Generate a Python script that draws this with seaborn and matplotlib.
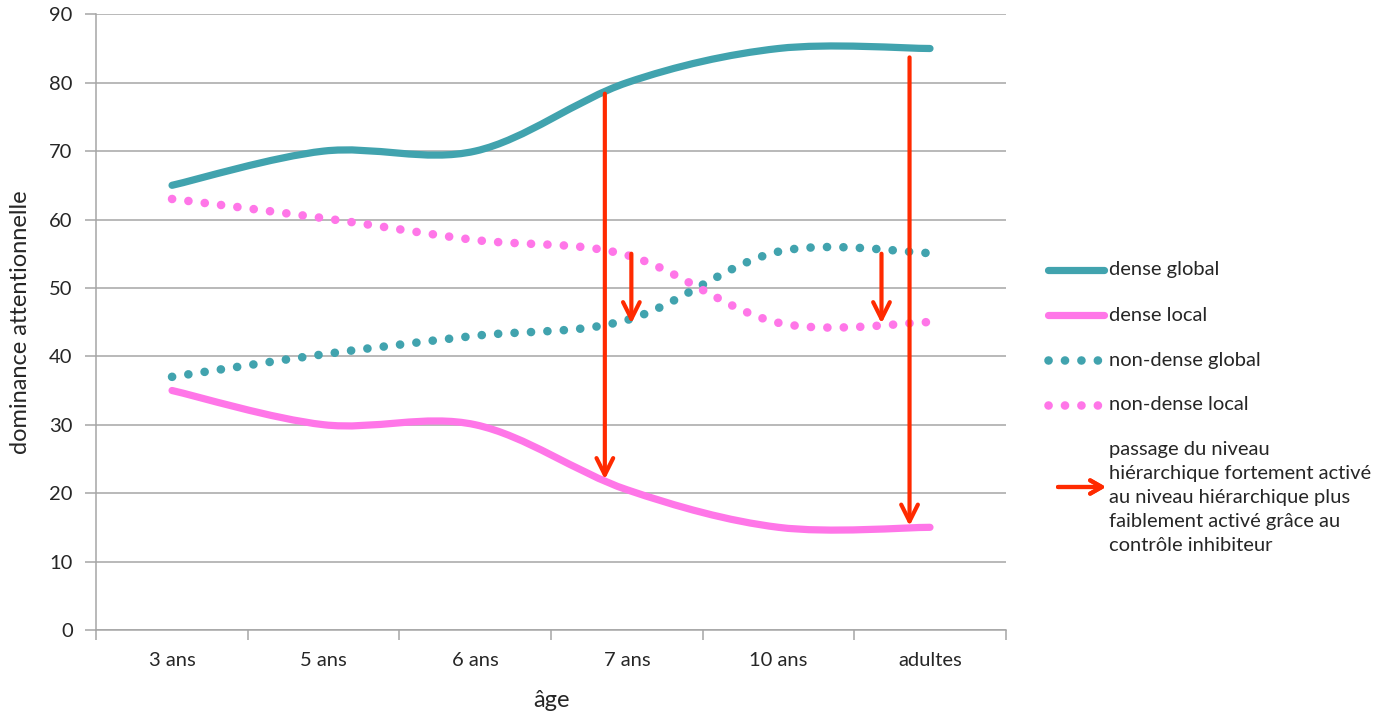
import numpy as np
import matplotlib
matplotlib.use("Agg")
import matplotlib.pyplot as plt
from matplotlib.path import Path
from matplotlib.patches import PathPatch
from matplotlib.lines import Line2D
import seaborn as sns

# données
ages = ["3 ans", "5 ans", "6 ans", "7 ans", "10 ans", "adultes"]
dense_global = [65, 70, 70, 80, 85, 85]
dense_local = [35, 30, 30, 20.5, 15, 15]
non_dense_global = [37, 40.3, 43, 45.3, 55.3, 55.1]
non_dense_local = [63, 60.2, 57, 54.8, 44.9, 45]

# flèches : (position sur l'axe des âges, départ, arrivée)
arrows = [(2.855, 78.4, 22.0), (3.03, 55.0, 44.8), (4.68, 55.0, 44.8), (4.865, 83.7, 15.2)]

teal = "#41A3AE"
pink = "#FF76E8"
red = "#FF2A00"
grey = "#A6A6A6"
dots = (0, (0.01, 1.9))

sns.set_theme(style="white")
plt.rcParams['font.family'] = ['Lato', 'DejaVu Sans']


def smooth_path(ys):
    # courbe lissée façon Excel (Bézier de type Catmull-Rom)
    pts = np.column_stack([np.arange(len(ys)), ys]).astype(float)
    verts = [pts[0]]
    codes = [Path.MOVETO]
    n = len(pts)
    for i in range(n - 1):
        p0 = pts[max(i - 1, 0)]
        p1 = pts[i]
        p2 = pts[i + 1]
        p3 = pts[min(i + 2, n - 1)]
        c1 = p1 + (p2 - p0) / 6
        c2 = p2 - (p3 - p1) / 6
        verts += [c1, c2, p2]
        codes += [Path.CURVE4] * 3
    return Path(verts, codes)


fig = plt.figure(figsize=(13.95, 7.15), dpi=100)
ax = fig.add_axes([0.069, 0.119, 0.652, 0.861])

series = [
    (dense_global, teal, '-', 5.2),
    (dense_local, pink, '-', 5.2),
    (non_dense_global, teal, dots, 6.2),
    (non_dense_local, pink, dots, 6.2),
]
for ys, col, ls, lw in series:
    patch = PathPatch(smooth_path(ys), fill=False, edgecolor=col, lw=lw,
                      linestyle=ls, capstyle='round', joinstyle='round', zorder=3)
    ax.add_patch(patch)

for x, y0, y1 in arrows:
    ax.annotate("", xy=(x, y1), xytext=(x, y0),
                arrowprops=dict(arrowstyle="->,head_length=1.0,head_width=0.5",
                                color=red, lw=3.0, shrinkA=0, shrinkB=0),
                zorder=4)

ax.set_xlim(-0.5, 5.5)
ax.set_ylim(0, 90)
ax.set_yticks(range(0, 91, 10))
ax.yaxis.grid(True, color=grey, lw=1.1)
ax.set_axisbelow(True)

ax.set_xticks(np.arange(-0.5, 5.6, 1))
ax.set_xticklabels([])
ax.set_xticks(range(len(ages)), minor=True)
ax.set_xticklabels(ages, minor=True)
ax.tick_params(axis='x', which='major', length=7, width=1.1, color=grey, direction='out', bottom=True)
ax.tick_params(axis='x', which='minor', length=0, pad=16, labelsize=14.5)
ax.tick_params(axis='y', length=8, width=1.1, color=grey, direction='out', left=True, labelsize=14.5, pad=9)

sns.despine(ax=ax)
for s in ['left', 'bottom']:
    ax.spines[s].set_color(grey)
    ax.spines[s].set_linewidth(1.1)

ax.set_xlabel("âge", fontsize=17)
ax.set_ylabel("dominance attentionnelle", fontsize=17)
ax.xaxis.set_label_coords(0.5, -0.097)
ax.yaxis.set_label_coords(-0.072, 0.5)

# légende dessinée à la main
W, H = 1395, 715


def fx(px):
    return px / W


def fy(py):
    return 1 - py / H


legend_items = [
    ("dense global", teal, '-', 5.2, 270),
    ("dense local", pink, '-', 5.2, 315),
    ("non-dense global", teal, dots, 6.2, 360),
    ("non-dense local", pink, dots, 6.2, 405),
]
for label, col, ls, lw, py in legend_items:
    ln = Line2D([fx(1048), fx(1104)], [fy(py), fy(py)], transform=fig.transFigure,
                color=col, lw=lw, linestyle=ls, solid_capstyle='round', dash_capstyle='round')
    fig.add_artist(ln)
    fig.text(fx(1109), fy(py), label, fontsize=14.5, va='center', ha='left')

fig.add_artist(plt.annotate("", xy=(fx(1106), fy(487)), xytext=(fx(1058), fy(487)),
                            xycoords=fig.transFigure, textcoords=fig.transFigure,
                            arrowprops=dict(arrowstyle="->,head_length=0.7,head_width=0.4",
                                            color=red, lw=3.0, shrinkA=0, shrinkB=0)))
fig.text(fx(1109), fy(441),
         "passage du niveau\nhiérarchique fortement activé\nau niveau hiérarchique plus\n"
         "faiblement activé grâce au\ncontrôle inhibiteur",
         fontsize=14.5, va='top', ha='left', linespacing=1.5)

fig.savefig("out.png", dpi=100)
